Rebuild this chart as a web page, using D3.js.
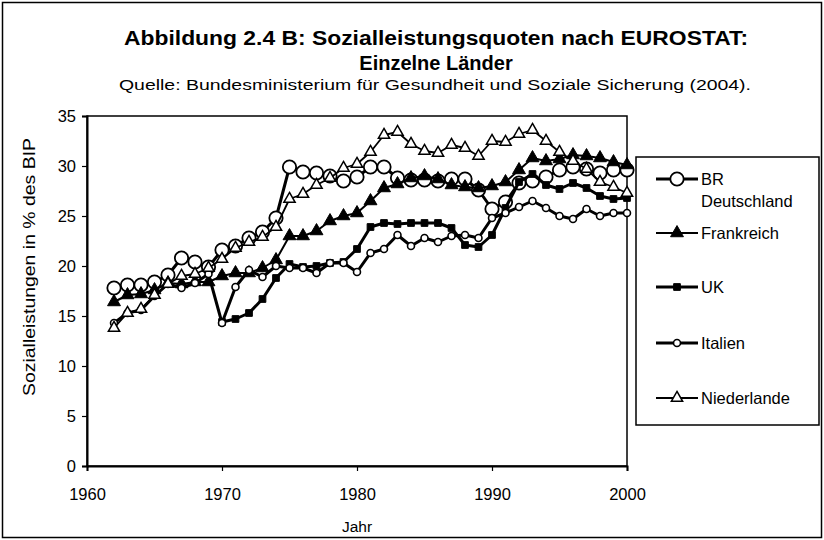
<!DOCTYPE html>
<html>
<head>
<meta charset="utf-8">
<script src="https://cdn.jsdelivr.net/npm/d3@7"></script>
<style>
  body { margin: 0; background: #fff; }
  svg text { font-family: "Liberation Sans", Arial, sans-serif; fill: #000; }
</style>
</head>
<body>
<div id="chart"></div>
<script>
// years 1962 - 2000
const years = d3.range(1962, 2001);

const deutschland = [17.8, 18.1, 18.1, 18.4, 19.1, 20.8, 20.4, 19.9, 21.6, 22.0, 22.8, 23.4, 24.8,
  29.9, 29.4, 29.3, 29.0, 28.5, 28.9, 29.9, 29.9, 28.8, 28.6, 28.6, 28.5, 28.7, 28.7, 27.6,
  25.7, 26.4, 28.3, 28.5, 28.9, 29.6, 29.9, 29.7, 29.3, 29.6, 29.6];
const frankreich = [16.4, 17.1, 17.2, 17.6, 18.3, 18.2, 18.4, 18.4, 19.0, 19.3, 19.3, 19.8, 20.6,
  23.0, 23.0, 23.5, 24.5, 25.0, 25.3, 26.5, 27.8, 28.2, 28.8, 29.0, 28.7, 28.1, 27.9, 27.8,
  28.0, 28.4, 29.6, 30.8, 30.5, 30.7, 31.1, 31.0, 30.8, 30.4, 30.1];
const uk = [null, null, null, null, null, null, null, null, 14.4, 14.7, 15.3, 16.7, 18.8,
  20.2, 19.9, 20.0, 20.3, 20.4, 21.7, 23.9, 24.3, 24.2, 24.3, 24.3, 24.3, 23.8, 22.1, 21.9,
  23.1, 25.8, 28.4, 29.2, 28.1, 27.7, 28.3, 27.8, 27.0, 26.7, 26.8];
const italien = [14.3, 15.3, 15.6, 17.0, 18.2, 17.8, 18.3, 19.2, 14.3, 17.9, 19.6, 18.9, 20.0,
  19.8, 19.8, 19.3, 20.3, 20.3, 19.4, 21.3, 21.7, 23.1, 22.0, 22.8, 22.4, 23.0, 23.1, 22.8,
  24.8, 25.3, 25.9, 26.5, 25.8, 25.0, 24.7, 25.7, 25.0, 25.3, 25.3];
const niederlande = [13.8, 15.3, 15.7, 17.1, 18.2, 19.0, 19.2, 19.8, 20.7, 21.8, 22.4, 22.9, 23.9,
  26.7, 27.2, 28.1, 28.8, 29.8, 30.2, 31.4, 33.1, 33.4, 32.2, 31.5, 31.3, 32.1, 31.8, 31.0,
  32.5, 32.4, 33.2, 33.6, 32.5, 31.4, 30.5, 29.7, 28.4, 27.9, 27.3];

const seriesNames = ["BR Deutschland", "Frankreich", "UK", "Italien", "Niederlande"];
const xTicks = [1960, 1970, 1980, 1990, 2000];
const yTicks = [0, 5, 10, 15, 20, 25, 30, 35];

const title1 = "Abbildung 2.4 B: Sozialleistungsquoten nach EUROSTAT:";
const title2 = "Einzelne Länder";
const source = "Quelle: Bundesministerium für Gesundheit und Soziale Sicherung (2004).";

const W = 824, H = 540;
const margin = {top: 116, right: 197, bottom: 74, left: 87},
  width = W - margin.left - margin.right,
  height = H - margin.top - margin.bottom;

const svg0 = d3.select("#chart").append("svg")
  .attr("width", W).attr("height", H);

// outer frame
svg0.append("rect")
  .attr("x", 2.5).attr("y", 2.5)
  .attr("width", W - 5).attr("height", H - 5)
  .attr("fill", "none").attr("stroke", "#000").attr("stroke-width", 1.5);

svg0.append("text").text(title1)
  .attr("x", 436).attr("y", 45)
  .attr("text-anchor", "middle").attr("font-weight", "bold").attr("font-size", 20)
  .attr("textLength", 624).attr("lengthAdjust", "spacingAndGlyphs");
svg0.append("text").text(title2)
  .attr("x", 436).attr("y", 70)
  .attr("text-anchor", "middle").attr("font-weight", "bold").attr("font-size", 20);
svg0.append("text").text(source)
  .attr("x", 435).attr("y", 90)
  .attr("text-anchor", "middle").attr("font-size", 15)
  .attr("textLength", 632).attr("lengthAdjust", "spacingAndGlyphs");

const svg = svg0.append("g")
  .attr("transform", `translate(${margin.left},${margin.top})`);

const x = d3.scaleLinear().domain([1960, 2000]).range([0, width]);
const y = d3.scaleLinear().domain([0, 35]).range([height, 0]);

// plot frame
svg.append("rect")
  .attr("width", width).attr("height", height)
  .attr("fill", "none").attr("stroke", "#000").attr("stroke-width", 1.5);

const xAxis = svg.append("g")
  .attr("transform", `translate(0,${height})`)
  .call(d3.axisBottom(x).tickValues(xTicks).tickFormat(d3.format("d")).tickSize(5).tickPadding(17));
const yAxis = svg.append("g")
  .call(d3.axisLeft(y).tickValues(yTicks).tickSize(5).tickPadding(6));
[xAxis, yAxis].forEach(a => {
  a.select(".domain").attr("stroke-width", 2);
  a.selectAll(".tick line").attr("stroke-width", 1.2);
  a.selectAll("text").attr("font-size", 16.5)
    .style("font-family", "'Liberation Sans', Arial, sans-serif");
});

svg.append("text").text("Jahr")
  .attr("x", x(1980)).attr("y", height + 66)
  .attr("text-anchor", "middle").attr("font-size", 15.5);
svg.append("text").text("Sozialleistungen in % des BIP")
  .attr("transform", `translate(-52,${height / 2 - 24}) rotate(-90)`)
  .attr("text-anchor", "middle").attr("font-size", 16)
  .attr("textLength", 258).attr("lengthAdjust", "spacingAndGlyphs");

const styles = [
  {values: deutschland, lw: 3, sym: d3.symbolCircle, size: 140, fill: "#fff", sw: 1.8},
  {values: frankreich, lw: 2, sym: d3.symbolTriangle, size: 72, fill: "#000", sw: 1},
  {values: uk, lw: 3, sym: d3.symbolSquare, size: 45, fill: "#000", sw: 1},
  {values: italien, lw: 3, sym: d3.symbolCircle, size: 38, fill: "#fff", sw: 1.6},
  {values: niederlande, lw: 1.8, sym: d3.symbolTriangle, size: 55, fill: "#fff", sw: 1.5}
];

const line = d3.line()
  .defined(d => d.v != null)
  .x(d => x(d.year))
  .y(d => y(d.v));

styles.forEach(s => {
  const pts = years.map((yr, i) => ({year: yr, v: s.values[i]}));
  svg.append("path")
    .datum(pts)
    .attr("fill", "none").attr("stroke", "#000")
    .attr("stroke-width", s.lw).attr("stroke-linejoin", "round")
    .attr("d", line);
  svg.selectAll(null)
    .data(pts.filter(d => d.v != null))
    .join("path")
    .attr("transform", d => `translate(${x(d.year)},${y(d.v)})`)
    .attr("d", d3.symbol(s.sym, s.size))
    .attr("fill", s.fill).attr("stroke", "#000").attr("stroke-width", s.sw);
});

// legend
const legend = svg0.append("g").attr("transform", "translate(636,157)");
legend.append("rect")
  .attr("width", 183).attr("height", 268)
  .attr("fill", "#fff").attr("stroke", "#000").attr("stroke-width", 1.5);
const legendY = [22, 76, 130, 186, 241];
styles.forEach((s, i) => {
  const g = legend.append("g").attr("transform", `translate(0,${legendY[i]})`);
  g.append("line").attr("x1", 20).attr("x2", 62)
    .attr("stroke", "#000").attr("stroke-width", s.lw);
  g.append("path").attr("transform", "translate(41,0)")
    .attr("d", d3.symbol(s.sym, s.size))
    .attr("fill", s.fill).attr("stroke", "#000").attr("stroke-width", s.sw);
  const words = i === 0 ? ["BR", "Deutschland"] : [seriesNames[i]];
  words.forEach((w, j) => {
    g.append("text").text(w)
      .attr("x", 65).attr("y", 6 + j * 22)
      .attr("font-size", 16.5);
  });
});
</script>
</body>
</html>
